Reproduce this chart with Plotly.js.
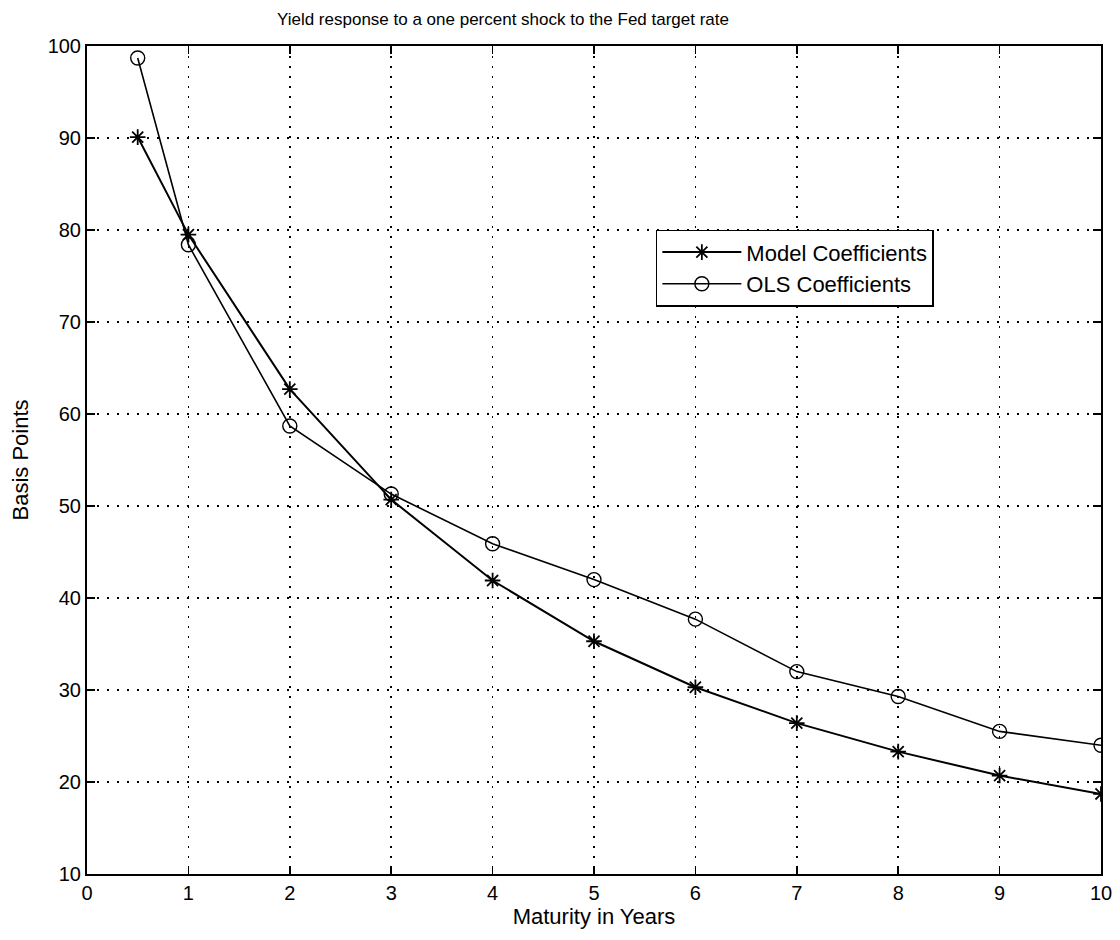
<!DOCTYPE html>
<html>
<head>
<meta charset="utf-8">
<script src="https://cdn.plot.ly/plotly-3.0.1.min.js"></script>
<style>html,body{margin:0;padding:0;background:#fff;}#chart{width:1120px;height:940px;}</style>
</head>
<body>
<div id="chart"></div>
<script>
const maturities = [0.5, 1, 2, 3, 4, 5, 6, 7, 8, 9, 10];
const modelCoefficients = [90.1, 79.5, 62.7, 50.7, 41.9, 35.3, 30.3, 26.4, 23.3, 20.7, 18.7];
const olsCoefficients = [98.7, 78.4, 58.7, 51.3, 45.9, 42.0, 37.7, 32.0, 29.3, 25.5, 24.0];
const xTicks = [0, 1, 2, 3, 4, 5, 6, 7, 8, 9, 10];
const yTicks = [10, 20, 30, 40, 50, 60, 70, 80, 90, 100];

const fam = 'Liberation Sans, Arial, Helvetica, sans-serif';
const tickFont = {family: fam, size: 20, color: '#000'};
const labelFont = {family: fam, size: 22, color: '#000'};
const titleFont = {family: fam, size: 17, color: '#000'};

const traces = [
  {x: maturities, y: modelCoefficients, name: 'Model Coefficients', type: 'scatter', mode: 'lines+markers',
   line: {color: '#000', width: 2},
   marker: {symbol: 'asterisk-open', size: 13, color: '#000', line: {color: '#000', width: 1.8}}},
  {x: maturities, y: olsCoefficients, name: 'OLS Coefficients', type: 'scatter', mode: 'lines+markers',
   line: {color: '#000', width: 1.6},
   marker: {symbol: 'circle-open', size: 14, color: '#000', line: {color: '#000', width: 1.4}}}
];

const axisCommon = {
  showline: true, linecolor: '#000', linewidth: 2, mirror: 'allticks',
  ticks: 'inside', ticklen: 8, tickcolor: '#000', tickwidth: 1.5,
  showgrid: true, gridcolor: '#000', griddash: '2px,8px', gridwidth: 1.5,
  zeroline: false, tickfont: tickFont
};

const layout = {
  width: 1120, height: 940,
  paper_bgcolor: '#fff', plot_bgcolor: '#fff',
  margin: {l: 87, r: 19, t: 46, b: 66},
  font: tickFont,
  title: {text: 'Yield response to a one percent shock to the Fed target rate', font: titleFont,
          x: 503/1120, xref: 'container', xanchor: 'center', y: 1 - 19/940, yanchor: 'middle'},
  xaxis: Object.assign({}, axisCommon, {range: [0, 10], tickvals: xTicks,
          title: {text: 'Maturity in Years', font: labelFont, standoff: 6}}),
  yaxis: Object.assign({}, axisCommon, {range: [10, 100], tickvals: yTicks,
          title: {text: 'Basis Points', font: labelFont, standoff: 13}}),
  showlegend: true,
  legend: {x: 0.561, y: 0.778, xanchor: 'left', yanchor: 'top', bgcolor: '#fff',
           bordercolor: '#000', borderwidth: 1.5, font: labelFont, itemwidth: 79,
           tracegroupgap: 0}
};

Plotly.newPlot('chart', traces, layout, {displayModeBar: false, staticPlot: true});
</script>
</body>
</html>
